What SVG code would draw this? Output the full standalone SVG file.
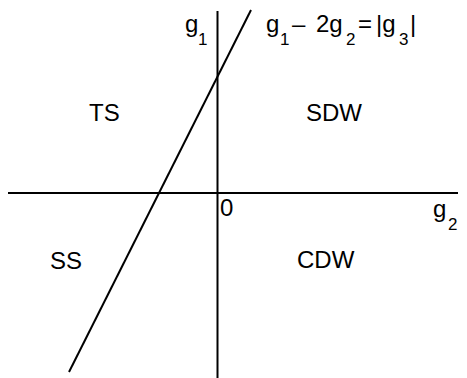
<svg xmlns="http://www.w3.org/2000/svg" width="467" height="378" viewBox="0 0 467 378">
<style>
text{font-family:"Liberation Sans",Arial,sans-serif;fill:#000}
.m{font-size:24px}
.s{font-size:17px}
.ln{stroke:#000;stroke-width:2;fill:none}
</style>
<rect width="467" height="378" fill="#fff"/>
<g id="connectors">
<line class="ln" x1="8" y1="193" x2="458" y2="193"/>
<line class="ln" x1="217.5" y1="11" x2="217.5" y2="378"/>
<line class="ln" x1="251" y1="10" x2="69" y2="372"/>
</g>
<g id="axis-g1"><text class="m" x="185" y="32">g</text><text class="s" x="198" y="45">1</text></g>
<g id="axis-g2"><text class="m" x="433" y="217">g</text><text class="s" x="448" y="230">2</text></g>
<g id="origin"><text class="m" x="220" y="216">0</text></g>
<g id="equation">
<text class="m" x="266" y="32">g</text><text class="s" x="280" y="45">1</text>
<text class="m" x="292" y="32">–</text>
<text class="m" x="316" y="32">2g</text><text class="s" x="346" y="45">2</text>
<text class="m" x="358" y="32">=</text>
<text class="m" x="376" y="32">|g</text><text class="s" x="399" y="45">3</text>
<text class="m" x="410" y="32">|</text>
</g>
<g id="TS"><text class="m" x="89" y="121">TS</text></g>
<g id="SDW"><text class="m" x="306" y="121">SDW</text></g>
<g id="SS"><text class="m" x="50" y="269">SS</text></g>
<g id="CDW"><text class="m" x="297" y="268">CDW</text></g>
</svg>
